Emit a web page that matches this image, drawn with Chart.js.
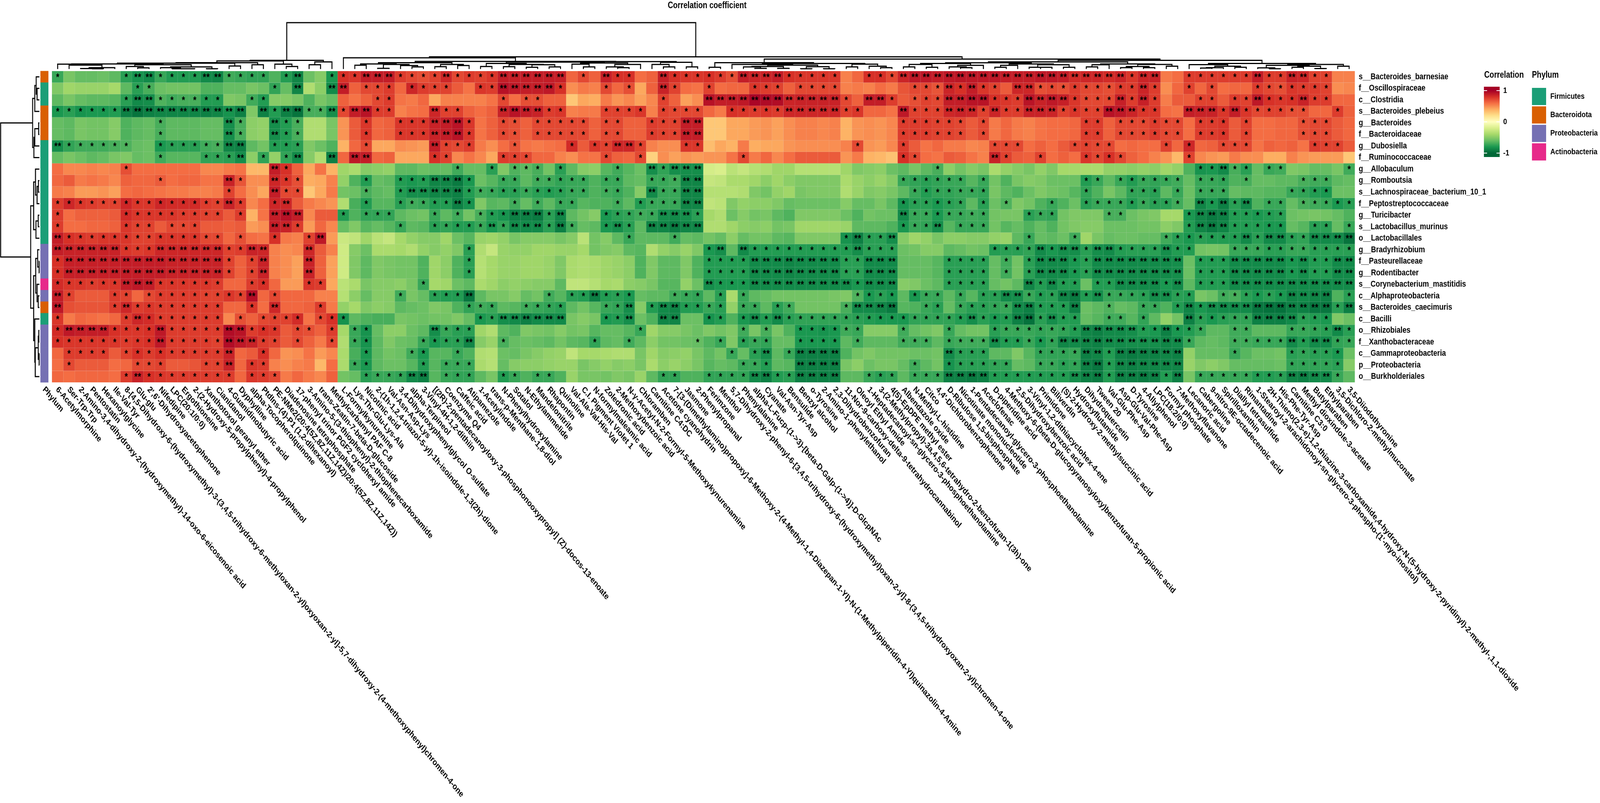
<!DOCTYPE html>
<html>
<head>
<meta charset="utf-8">
<title>Correlation coefficient</title>
<script src="https://cdn.jsdelivr.net/npm/chart.js@4"></script>
<style>
  html, body { margin: 0; padding: 0; background: #fff; overflow: hidden; }
</style>
</head>
<body>
<!-- drawn at 4960x2056 and fitted to the window, whatever size the browser gives -->
<canvas id="heatmap" width="4960" height="2056" style="display:block;width:100vw;height:100vh"></canvas>
<script>
const rowLabels = ['s__Bacteroides_barnesiae','f__Oscillospiraceae','c__Clostridia','s__Bacteroides_plebeius','g__Bacteroides','f__Bacteroidaceae','g__Dubosiella','f__Ruminococcaceae','g__Allobaculum','g__Romboutsia','s__Lachnospiraceae_bacterium_10_1','f__Peptostreptococcaceae','g__Turicibacter','s__Lactobacillus_murinus','o__Lactobacillales','g__Bradyrhizobium','f__Pasteurellaceae','g__Rodentibacter','s__Corynebacterium_mastitidis','c__Alphaproteobacteria','s__Bacteroides_caecimuris','c__Bacilli','o__Rhizobiales','f__Xanthobacteraceae','c__Gammaproteobacteria','p__Proteobacteria','o__Burkholderiales'];

const colLabels = ['6-Acetylmorphine','Ser-Trp-Trp','2-Amino-3,4-dihydroxy-2-(hydroxymethyl)-14-oxo-6-eicosenoic acid','Pentostatin','Hexanoylglycine','Ile-Val-Tyr','8-[4,5-Dihydroxy-6-(hydroxymethyl)-3-(3,4,5-trihydroxy-6-methyloxan-2-yl)oxyoxan-2-yl]-5,7-dihydroxy-2-(4-methoxyphenyl)chromen-4-one','Glu-glu',"2',6'-Dihydroxyacetophenone",'Nifedipine','LPC(20:1/0:0)','Ergothioneine','2-(2-Hydroxy-5-propylphenyl)-4-propylphenol','Xanthotoxol geranyl ether','Cianidanol','4-Guanidinobutyric acid','Dyphylline','alpha-Tocopherolquinone','PtdIns-(4)-P1 (1,2-dihexanoyl)','PE-NMe2(20:4(5Z,8Z,11Z,14Z)/20:4(5Z,8Z,11Z,14Z))','Diadenosine tetraphosphate','17-phenyl trinor PGF2 cyclohexyl amide','3-Amino-5-(3-thiophenyl)-2-thiophenecarboxamide','trans-Zeatin-7-beta-D-glucoside','Methylcarbamyl PAF C-8','L-Formylkynurenine','Lys-Thr-Glu-Lys-Ala','Nicotinic acid','2-(1h-1,2,4-triazol-5-yl)-1h-isoindole-1,3(2h)-dione','Val-Asn-Asp-Lys','3,4-Dihydroxyphenylglycol O-sulfate','alpha-Terpineol','3-Vinyl-4H-1,2-dithiin','[(2R)-2-pentadecanoyloxy-3-phosphonooxypropyl] (Z)-docos-13-enoate','Coenzyme Q4','Caffeic acid','Atipamezole','1-Acetylindole','trans-p-Menthane-1,8-diol','N-Phenylhydroxylamine','Sotalol','N-Ethylammelide','Mandelonitrile','Rhapontin','Quinoline','Val-Ala-Val-His-Val','C.I. Pigment Violet 1','N-formylmaleamic acid','Zoledronic acid','2-Methoxybenzoic acid','N-γ-Acetyl-N-2-Formyl-5-Methoxykynurenamine','Chloramben','Carnitine C4:DC','Acetone cyanohydrin','7-[3-(Dimethylamino)propoxy]-6-Methoxy-2-(4-Methyl-1,4-Diazepan-1-Yl)-N-(1-Methylpiperidin-4-Yl)quinazolin-4-Amine','Jasmone','2-Phenylpropanal','Ferimzone','Menthol','5,7-Dihydroxy-2-phenyl-6-[3,4,5-trihydroxy-6-(hydroxymethyl)oxan-2-yl]-8-(3,4,5-trihydroxyoxan-2-yl)chromen-4-one','Phenylalanine','alpha-L-Fucp-(1->3)-[beta-D-Galp-(1->4)]-D-GlcpNAc','Cyanate','Val-Asn-Tyr-Asp','Bensulide','Benzyl alcohol','o-Tyrosine','2-Amino-1-phenylethanol','2,3-Dihydrobenzofuran','11-Nor-9-carboxy-delta-9-tetrahydrocannabinol','Oleoyl Ethyl Amide','1-Heptadecanoyl-sn-glycero-3-phosphoethanolamine','3-(2-Methylpropyl)-3a,4,5,6-tetrahydro-2-benzofuran-1(3h)-one','4(5)-EpDPE methyl ester','Albendazole oxide','N-Methyl-L-histidine','Citco',"4,4'-Dichlorobenzophenone",'D-Ribulose 1,5-bisphosphate','Nicotinate mononucleotide','1-Pentadecanoyl-glycero-3-phosphoethanolamine','Aceclofenac','D-piperidine acid','4-Methoxy-6-(beta-D-glucopyranosyloxy)benzofuran-5-propionic acid','2,5-Dihydroxybenzoic acid','3-Vinyl-1,2-dithiacyclohex-4-ene','Primidone','Biliverdin','(S)-2-Hydroxy-2-methylsuccinic acid','Hydroxyflutamide','Dihydroquercetin','Tween 20','Val-Glu-Phe-Asp','Asp-Glu-Val-Phe-Asp','D-Tyrosine','4-Allylphenol','LPC(18:2/0:0)','Formyl phosphate','7-Methoxyflavanone','Lecanoric acid','Cabergoline','9-nitro-9E-octadecenoic acid','Spirilloxanthin','Diallyl tetrasulfide','Rimantadine',"1-Stearoyl-2-arachidonoyl-sn-glycero-3-phospho-(1'-myo-inositol)",'2H-Thieno(2,3-e)-1,2-thiazine-3-carboxamide,4-hydroxy-N-(5-hydroxy-2-pyridinyl)-2-methyl-,1,1-dioxide','His-Phe-Tyr-Asp','Carnitine C3:0','Methyl dioxindole-3-acetate','Butylparaben','Ethylparaben','3,5-Dichloro-2-methylmuconate','3,5-Diiodothyronine'];

// phylum of each row: 0 Firmicutes, 1 Bacteroidota, 2 Proteobacteria, 3 Actinobacteria
const phylumNames = ['Firmicutes','Bacteroidota','Proteobacteria','Actinobacteria'];
const phylumColors = ['#1B9E77','#D95F02','#7570B3','#E7298A'];
const rowPhylum = [1,0,0,1,1,1,0,0,0,0,0,0,0,0,0,2,2,2,3,2,1,0,2,2,2,2,2];

// correlation x 100
const corr00 = [-72,-54,-60,-60,-58,-62,-76,-82,-86,-72,-78,-78,-78,-86,-88,-70,-72,-74,-74,-66,-78,-88,-58,-50,-80,80,78,88,88,
  88,76,72,70,74,84,72,76,74,78,88,87,88,88,88,87,63,72,64,87,80,80,60,64,87,80,78,78,
  80,76,70,88,85,85,88,80,78,78,78,78,54,62,80,80,72,85,90,90,88,90,91,90,90,90,88,88,88,
  90,90,88,82,84,84,82,85,78,85,86,56,60,76,76,76,76,76,76,88,76,76,86,84,74,74,54,54];
const corr01 = [-52,-42,-44,-44,-44,-40,-62,-76,-68,-58,-56,-56,-56,-66,-66,-60,-60,-54,-58,-74,-60,-88,-36,-48,-86,88,64,72,72,
  76,62,84,76,74,74,66,58,78,76,93,90,88,88,90,80,50,56,54,72,62,70,42,64,86,74,60,58,
  74,60,62,62,78,76,74,64,72,72,72,72,54,56,54,60,56,68,72,72,68,85,80,88,78,74,66,84,84,
  70,72,70,76,72,72,70,76,76,85,76,50,62,74,62,72,60,62,62,76,72,70,78,76,76,74,50,52];
const corr02 = [-62,-54,-60,-62,-62,-64,-76,-86,-84,-66,-70,-68,-68,-78,-78,-52,-54,-70,-78,-50,-50,-54,-66,-54,-60,64,58,64,72,
  76,58,56,62,42,54,54,54,54,58,72,60,70,70,64,64,30,42,40,56,48,52,44,52,74,64,44,50,
  93,88,88,90,98,96,95,85,86,86,86,86,72,64,88,88,76,66,70,74,72,88,88,92,92,80,78,76,92,
  86,90,87,78,72,72,72,87,76,87,76,55,66,66,74,74,66,76,74,90,80,78,80,86,76,76,62,62];
const corr03 = [-80,-76,-82,-80,-80,-78,-90,-95,-90,-88,-88,-88,-88,-90,-88,-82,-90,-52,-90,-78,-90,-95,-68,-68,-84,72,88,92,76,
  76,54,58,60,84,74,74,64,60,64,86,92,88,86,76,78,54,56,56,74,74,74,78,54,74,72,72,72,
  62,56,80,78,76,78,76,84,84,84,84,84,74,78,62,62,58,90,74,74,74,84,86,84,74,85,76,76,86,
  86,85,74,78,74,74,93,90,85,78,78,60,58,88,86,86,78,88,78,72,74,74,70,70,62,62,76,64];
const corr04 = [-60,-62,-54,-56,-56,-50,-66,-62,-60,-68,-62,-62,-62,-60,-60,-84,-68,-48,-46,-84,-78,-68,-36,-36,-54,48,66,78,62,
  64,78,78,78,86,88,92,78,58,64,72,70,64,72,72,72,72,72,64,72,72,64,64,76,74,74,88,88,
  30,30,42,42,46,48,44,50,54,54,52,54,38,48,50,48,52,76,76,76,74,74,72,66,72,56,62,56,54,
  58,60,60,62,76,76,64,72,72,72,76,72,72,60,76,76,78,66,74,60,60,62,62,70,72,72,66,62];
const corr05 = [-60,-62,-54,-56,-56,-50,-66,-62,-60,-68,-62,-62,-62,-60,-60,-84,-68,-48,-46,-84,-78,-68,-36,-36,-54,48,66,78,62,
  64,78,78,78,86,88,92,78,58,64,72,70,64,72,72,72,72,72,64,72,72,64,64,76,74,74,88,88,
  30,30,42,42,46,48,44,50,54,54,52,54,38,48,50,48,52,76,76,76,74,74,72,66,72,56,62,56,54,
  58,60,60,62,76,76,64,72,72,72,76,72,72,60,76,76,78,66,74,60,60,62,62,70,72,72,66,62];
const corr06 = [-84,-74,-70,-70,-70,-68,-66,-60,-58,-80,-76,-76,-76,-70,-68,-88,-90,-62,-56,-78,-78,-76,-52,-58,-66,38,62,72,42,
  42,50,48,46,88,74,72,76,56,50,60,68,58,56,58,60,82,66,78,74,84,84,74,54,50,50,78,78,
  34,42,38,56,40,42,42,48,50,50,50,50,54,72,48,46,52,76,66,58,62,56,56,52,54,72,72,72,60,
  64,60,66,72,74,72,72,60,62,60,60,74,62,84,62,64,72,72,72,58,64,62,64,58,76,74,74,66];
const corr07 = [-60,-54,-58,-62,-60,-54,-52,-60,-58,-70,-64,-64,-64,-74,-74,-76,-84,-48,-74,-46,-74,-86,-50,-36,-90,62,90,88,62,
  64,42,42,42,80,74,52,58,52,42,76,74,72,62,62,54,50,58,58,72,64,62,72,26,50,44,48,46,
  48,48,58,72,56,62,52,60,66,66,66,66,48,56,38,36,32,80,72,60,58,66,64,58,54,86,74,66,64,
  74,60,64,60,78,72,80,72,64,60,54,48,36,74,52,48,46,56,50,50,40,40,54,48,46,46,46,30];
const corr08 = [60,52,52,54,52,54,70,60,60,60,60,60,60,52,52,56,58,36,36,88,80,64,42,58,38,-42,-38,-50,-48,
  -46,-62,-62,-58,-60,-60,-70,-60,-60,-76,-52,-66,-62,-68,-56,-76,-62,-50,-48,-64,-70,-64,-58,-84,-74,-84,-84,-84,
  -22,-20,-32,-28,-34,-36,-42,-42,-34,-34,-34,-34,-42,-52,-50,-48,-58,-62,-54,-62,-68,-48,-56,-50,-54,-38,-46,-50,-54,
  -46,-52,-40,-40,-38,-38,-46,-46,-48,-46,-48,-42,-46,-66,-82,-80,-86,-68,-76,-60,-72,-70,-52,-54,-60,-60,-54,-70];
const corr09 = [62,66,56,58,56,52,64,62,62,66,60,62,62,58,58,86,68,50,50,84,78,70,40,42,54,-46,-66,-78,-60,
  -62,-78,-80,-78,-88,-88,-92,-80,-58,-64,-72,-72,-62,-70,-70,-74,-72,-72,-66,-72,-72,-62,-60,-72,-72,-70,-88,-88,
  -28,-30,-38,-38,-42,-48,-42,-48,-52,-52,-52,-52,-38,-44,-48,-44,-50,-72,-74,-76,-74,-72,-72,-64,-72,-56,-66,-54,-50,
  -52,-58,-58,-58,-78,-72,-62,-72,-78,-72,-74,-72,-70,-60,-72,-72,-74,-66,-68,-60,-60,-62,-62,-68,-70,-70,-62,-60];
const corr10 = [56,54,46,46,48,44,60,62,60,58,56,56,54,54,56,74,60,50,42,88,72,72,30,42,56,-56,-58,-68,-62,
  -60,-78,-84,-84,-88,-88,-90,-78,-70,-72,-76,-76,-72,-76,-78,-76,-72,-72,-66,-70,-72,-66,-50,-86,-72,-72,-88,-88,
  -34,-34,-34,-36,-52,-56,-46,-42,-54,-52,-52,-52,-36,-44,-52,-50,-54,-62,-72,-78,-74,-74,-72,-72,-74,-54,-62,-66,-58,
  -52,-56,-58,-64,-74,-66,-54,-62,-74,-74,-76,-62,-72,-58,-72,-72,-72,-60,-62,-62,-64,-64,-72,-74,-78,-80,-58,-58];
const corr11 = [76,84,78,76,74,74,84,78,78,84,82,82,82,76,74,86,76,52,60,84,84,66,56,52,48,-36,-68,-78,-64,
  -64,-76,-70,-72,-78,-78,-90,-82,-52,-64,-62,-70,-60,-70,-62,-72,-72,-64,-66,-66,-70,-62,-78,-72,-72,-72,-88,-88,
  -30,-32,-52,-46,-48,-48,-52,-60,-58,-58,-58,-58,-50,-60,-60,-54,-62,-82,-76,-76,-80,-76,-74,-62,-76,-58,-66,-52,-56,
  -66,-72,-66,-58,-76,-72,-72,-72,-78,-72,-76,-76,-70,-60,-88,-80,-90,-76,-86,-66,-72,-72,-60,-68,-70,-72,-80,-76];
const corr12 = [76,60,64,64,64,66,82,78,78,78,78,76,76,74,74,66,76,38,58,88,93,88,52,66,66,-78,-66,-74,-74,
  -74,-62,-58,-56,-72,-62,-70,-56,-68,-78,-82,-90,-90,-92,-76,-88,-62,-56,-50,-80,-76,-74,-70,-72,-84,-86,-84,-76,
  -40,-36,-58,-50,-56,-54,-62,-66,-52,-52,-52,-52,-58,-66,-56,-58,-58,-86,-72,-72,-80,-72,-72,-70,-72,-56,-54,-54,-76,
  -72,-74,-56,-52,-52,-52,-68,-68,-58,-54,-52,-40,-40,-80,-88,-92,-90,-78,-78,-80,-78,-76,-58,-56,-54,-56,-60,-66];
const corr13 = [76,60,60,62,62,64,78,74,74,66,72,72,74,66,66,64,66,46,50,88,86,76,46,62,52,-60,-52,-64,-60,
  -64,-72,-62,-64,-76,-74,-78,-78,-72,-80,-74,-86,-86,-86,-76,-90,-70,-60,-62,-80,-84,-76,-62,-88,-88,-92,-88,-88,
  -36,-36,-42,-48,-50,-48,-56,-54,-42,-42,-42,-42,-44,-62,-62,-62,-66,-80,-72,-74,-84,-64,-72,-72,-72,-56,-64,-60,-66,
  -60,-66,-56,-52,-50,-50,-58,-58,-58,-56,-56,-48,-52,-78,-88,-92,-88,-78,-78,-78,-80,-80,-60,-64,-76,-76,-60,-72];
const corr14 = [88,80,78,76,78,78,78,74,74,78,78,78,78,72,72,62,70,60,58,80,56,54,74,90,46,-26,-30,-42,-32,
  -28,-40,-46,-50,-50,-42,-58,-64,-44,-42,-46,-54,-50,-50,-50,-54,-50,-32,-56,-50,-62,-72,-62,-62,-62,-70,-60,-62,
  -56,-60,-48,-60,-56,-56,-62,-64,-52,-52,-52,-52,-82,-90,-76,-76,-84,-50,-42,-46,-54,-48,-48,-50,-50,-46,-44,-62,-72,
  -60,-62,-58,-70,-42,-54,-60,-58,-58,-60,-60,-70,-76,-80,-76,-78,-78,-78,-86,-76,-86,-86,-76,-74,-86,-86,-86,-95];
const corr15 = [88,86,86,86,86,86,78,76,78,84,84,84,84,84,84,74,76,86,84,54,50,52,84,66,54,-24,-50,-58,-38,
  -38,-40,-36,-46,-50,-46,-52,-76,-36,-28,-44,-46,-46,-42,-42,-44,-44,-40,-56,-52,-50,-62,-64,-36,-46,-50,-44,-52,
  -80,-84,-62,-86,-78,-78,-78,-78,-78,-78,-78,-78,-78,-84,-76,-76,-76,-58,-56,-50,-50,-62,-60,-56,-58,-78,-76,-76,-74,
  -86,-80,-84,-84,-76,-84,-86,-78,-76,-76,-76,-84,-78,-78,-56,-54,-56,-72,-72,-72,-76,-76,-72,-72,-76,-76,-76,-76];
const corr16 = [80,87,87,87,87,87,88,88,88,88,86,86,86,86,86,74,64,74,86,54,50,44,86,64,44,-24,-52,-62,-52,
  -54,-56,-56,-66,-42,-48,-66,-76,-34,-40,-44,-44,-42,-42,-44,-52,-38,-36,-38,-42,-44,-48,-66,-52,-62,-62,-52,-66,
  -78,-78,-78,-78,-86,-86,-86,-88,-86,-86,-86,-86,-76,-76,-86,-86,-86,-60,-60,-60,-64,-76,-76,-76,-76,-60,-70,-56,-76,
  -86,-86,-86,-80,-76,-86,-86,-86,-86,-86,-86,-86,-84,-58,-78,-78,-78,-86,-86,-86,-86,-86,-80,-84,-78,-78,-86,-86];
const corr17 = [80,87,87,87,87,87,88,88,88,88,86,86,86,86,86,74,64,74,86,54,50,44,86,64,44,-24,-52,-62,-52,
  -54,-56,-56,-66,-42,-48,-66,-76,-34,-40,-44,-44,-42,-42,-44,-52,-38,-36,-38,-42,-44,-48,-66,-52,-62,-62,-52,-66,
  -78,-78,-78,-78,-86,-86,-86,-88,-86,-86,-86,-86,-76,-76,-86,-86,-86,-60,-60,-60,-64,-76,-76,-76,-76,-60,-70,-56,-76,
  -86,-86,-86,-80,-76,-86,-86,-86,-86,-86,-86,-86,-84,-58,-78,-78,-78,-86,-86,-86,-86,-86,-80,-84,-78,-78,-86,-86];
const corr18 = [82,78,78,76,78,78,88,90,88,78,78,78,78,78,76,62,62,76,80,62,46,46,78,76,42,-32,-38,-54,-50,
  -50,-48,-54,-72,-40,-42,-58,-62,-38,-42,-48,-46,-48,-50,-50,-62,-30,-30,-34,-40,-38,-48,-50,-54,-64,-64,-46,-58,
  -84,-80,-80,-80,-86,-86,-86,-86,-86,-86,-86,-86,-86,-80,-86,-86,-86,-50,-52,-58,-62,-76,-76,-76,-76,-60,-56,-62,-88,
  -78,-86,-78,-78,-58,-78,-78,-86,-86,-86,-86,-80,-86,-62,-78,-78,-78,-86,-86,-86,-86,-86,-86,-86,-86,-86,-86,-86];
const corr19 = [88,74,66,66,66,76,74,62,72,76,76,76,76,74,74,78,74,94,62,72,62,62,62,54,54,-34,-48,-60,-50,
  -50,-70,-54,-60,-76,-78,-78,-94,-62,-54,-54,-50,-60,-56,-70,-64,-76,-78,-90,-78,-76,-80,-60,-62,-62,-70,-72,-74,
  -62,-76,-38,-72,-62,-60,-56,-56,-56,-56,-56,-54,-52,-66,-80,-76,-80,-62,-80,-72,-72,-62,-72,-64,-76,-76,-86,-84,-72,
  -78,-76,-88,-92,-78,-84,-72,-72,-74,-76,-84,-84,-76,-78,-54,-58,-70,-68,-76,-80,-76,-80,-88,-86,-88,-90,-66,-76];
const corr20 = [90,70,68,68,68,76,84,76,78,76,76,76,76,76,76,62,62,78,60,84,62,62,64,76,56,-46,-40,-52,-48,
  -50,-62,-60,-58,-52,-54,-66,-74,-70,-72,-62,-64,-70,-72,-74,-76,-62,-56,-64,-72,-74,-84,-50,-78,-86,-88,-78,-78,
  -72,-76,-46,-72,-72,-62,-76,-70,-56,-56,-56,-56,-68,-86,-86,-88,-92,-64,-66,-72,-76,-60,-72,-76,-76,-74,-72,-86,-90,
  -78,-78,-78,-90,-58,-62,-66,-60,-62,-72,-72,-66,-78,-88,-80,-84,-86,-86,-86,-94,-96,-96,-90,-90,-94,-94,-76,-90];
const corr21 = [78,56,62,60,58,62,76,84,82,76,76,76,76,76,76,52,70,64,72,74,74,82,58,72,80,-82,-62,-66,-68,
  -68,-54,-56,-58,-56,-56,-52,-60,-80,-76,-84,-86,-90,-86,-86,-86,-54,-50,-54,-80,-78,-84,-58,-66,-88,-88,-58,-58,
  -82,-78,-66,-80,-86,-78,-86,-76,-74,-74,-74,-74,-74,-76,-78,-80,-80,-80,-74,-74,-74,-74,-78,-84,-76,-80,-78,-90,-96,
  -76,-84,-78,-78,-60,-64,-70,-70,-64,-74,-62,-46,-56,-90,-76,-80,-76,-74,-74,-90,-90,-90,-86,-76,-78,-80,-52,-58];
const corr22 = [82,90,88,88,88,80,78,78,80,90,76,76,76,76,76,95,92,76,80,78,66,72,70,64,76,-40,-72,-82,-60,
  -48,-48,-58,-62,-84,-72,-76,-76,-42,-36,-62,-66,-52,-54,-56,-50,-56,-54,-64,-60,-60,-64,-72,-42,-50,-50,-54,-58,
  -52,-56,-52,-70,-54,-68,-54,-66,-80,-80,-82,-80,-70,-72,-50,-50,-50,-70,-60,-56,-52,-72,-60,-56,-56,-76,-72,-72,-72,
  -74,-72,-74,-78,-88,-90,-86,-86,-84,-78,-80,-90,-80,-78,-72,-62,-62,-70,-70,-62,-62,-62,-72,-72,-74,-76,-86,-76];
const corr23 = [80,78,78,78,78,78,76,78,80,90,76,76,76,76,74,95,90,86,76,74,66,72,64,56,72,-36,-72,-82,-62,
  -52,-58,-60,-72,-80,-76,-76,-88,-50,-44,-68,-60,-58,-60,-62,-56,-62,-64,-74,-62,-60,-70,-62,-48,-56,-56,-58,-60,
  -66,-72,-52,-76,-72,-74,-60,-60,-80,-80,-80,-80,-62,-70,-62,-62,-62,-70,-70,-70,-62,-72,-70,-70,-70,-84,-78,-78,-72,
  -80,-74,-88,-86,-88,-90,-86,-86,-84,-84,-84,-88,-86,-72,-62,-60,-62,-70,-70,-72,-72,-72,-86,-78,-86,-86,-74,-72];
const corr24 = [62,76,76,76,76,66,74,80,76,80,76,76,76,76,76,86,62,66,80,62,48,50,58,46,52,-38,-68,-80,-62,
  -56,-58,-70,-80,-64,-64,-72,-66,-36,-34,-58,-60,-54,-50,-46,-44,-30,-40,-40,-38,-36,-36,-54,-42,-50,-48,-46,-54,
  -62,-56,-72,-60,-76,-84,-62,-72,-90,-90,-90,-90,-66,-56,-52,-56,-56,-56,-58,-58,-56,-86,-76,-76,-76,-62,-62,-52,-64,
  -74,-74,-74,-72,-90,-88,-78,-90,-92,-90,-90,-88,-90,-46,-60,-60,-60,-72,-64,-58,-58,-56,-76,-74,-76,-76,-80,-58];
const corr25 = [60,72,66,66,66,60,62,72,72,74,66,66,68,74,74,86,62,78,76,54,50,54,56,36,60,-38,-72,-80,-62,
  -58,-58,-64,-78,-64,-72,-72,-72,-38,-34,-60,-50,-48,-48,-46,-44,-44,-54,-50,-46,-50,-48,-54,-38,-48,-44,-48,-54,
  -64,-60,-62,-72,-72,-78,-62,-64,-90,-90,-90,-90,-54,-48,-58,-54,-54,-60,-70,-62,-56,-82,-76,-76,-76,-74,-74,-60,-62,
  -72,-72,-76,-74,-90,-94,-78,-88,-90,-88,-88,-88,-88,-44,-52,-48,-52,-60,-60,-60,-60,-58,-74,-74,-74,-74,-76,-50];
const corr26 = [62,60,62,62,62,60,76,86,80,78,76,76,76,76,76,76,62,78,76,72,56,62,56,52,64,-56,-60,-76,-72,
  -72,-74,-86,-90,-64,-72,-74,-74,-62,-54,-78,-72,-66,-72,-72,-66,-44,-54,-54,-56,-52,-54,-44,-62,-74,-74,-66,-66,
  -74,-74,-74,-74,-86,-90,-78,-76,-90,-90,-90,-90,-62,-62,-72,-76,-74,-62,-72,-72,-72,-90,-90,-92,-90,-78,-78,-78,-78,
  -78,-78,-78,-84,-90,-92,-78,-90,-90,-92,-90,-78,-90,-54,-72,-72,-72,-72,-72,-78,-78,-76,-88,-90,-86,-86,-72,-62];
const corr = [corr00,corr01,corr02,corr03,corr04,corr05,corr06,corr07,corr08,corr09,corr10,corr11,corr12,corr13,corr14,corr15,corr16,corr17,corr18,corr19,corr20,corr21,corr22,corr23,corr24,corr25,corr26];

// number of significance stars per cell, row by row
const stars = [
  '10000012211112211110120011122 2111121111222222010211002111 11122221111100111222222222222 2222222212200111111211221100',
  '00000001100000000001020022011 1011110011222221000101002100 10001110111100000011121211022 1111111112100101000111111100',
  '00000012211111100110000000001 1000000000101100000000001000 22222222222210221011122221112 2221111212100011011211121100',
  '11111122222222222021221121221 1000211000222211000111101111 00111112222211000211122212112 2211112221100222121111110010',
  '00000000010000021002110000010 0111222100110111110110011122 00000000000000000111111010000 0000110111111011101000011100',
  '00000000010000021002110000010 0111222100110111110110011122 00000000000000000111111010000 0000110111111011101000011100',
  '21111110011111122001110000010 0000211100010000101122100011 00000000000001000100000001110 0001111000010100111000001110',
  '00000000010001112010120020220 0000110000111000000100100000 00010000000000000110000002100 1000111100000100000000000000',
  '00000010000000000002100000000 0000001001011101000010021222 00000000000000000000100000000 0000000000000011211011000001',
  '00000000010000021002110000010 0111222100110111110110011122 00000000000000000111111010000 0000110111111011101000011100',
  '00000000000000010002110000010 0122222111111111110110021122 00000000000000000011111110000 0000100011101011100000111100',
  '11111111111111121001200000010 0111112100010101100010111122 00000000000000000111111010100 0100111111111021212011011111',
  '10000011111111101002220001011 1000101011122212000111112221 00000000000000000211111110001 1100001100000122211111000000',
  '10000011101110000002210000000 0100111112122212100121022222 00000000000000000111201110000 0000000000000122211111001101',
  '21111111111111101001001200000 0000000000000000000001000100 00000000000012112000000000001 0001000000011111112122112222',
  '22222211122222211220002000000 0000000100000000000000000000 12021111111112111000000001111 2122122111121100011111111111',
  '12222222222222210120002000000 0000000100000000000000000000 11112222222211222000011110101 2221122222222011122222121122',
  '12222222222222210120002000000 0000000100000000000000000000 11112222222211222000011110101 2221122222222011122222121122',
  '11111122211111100110001100000 0001000000000000000000000000 21112222222221222000011110002 1211011222212011122222222222',
  '21000110111111111201000000000 0100111200000010112111000111 01010000000001111011101011221 1122121111221100111111222201',
  '20000121111111100102000100000 0000000111001111000112012211 11011011000012222001101111122 1112001001101212222222222212',
  '10000012111111101011110111000 0000000011222222000112002200 11012121111111111111111211122 1211001101000211111222211100',
  '12222111121111122111011010110 0000211100000000000000100000 00010100111111000100010001111 1111222221121110011000111121',
  '11111111121111122211010010110 0001111200100000001001000001 01011100111101000111011112111 1122222222222100011111212211',
  '01111011111111120010000000010 0011001000000000000000000000 00101201222200000000021110000 1111221222222000010000111110',
  '01000001110001120110000000110 0001011100000000000000000000 00011100222200000010011111100 1111221222222000000000111110',
  '00000012111111110111000000011 1122011100110110000000001100 11112211222200111011122221111 1112221222212011111111222210'
].map(s => s.replace(/ /g, ''));

// dendrograms as nested [height, left, right], 0 is a leaf. Heights in axis units away from the heatmap.
const colTree = [4.2,
  [.93,
    [.88,
      [.73,
        [.69,
          [.62,
            [.6,0,[.52,0,[.3,[.22,0,[.2,0,0]],0]]],
            [.55,[.4,0,[.28,0,0]],[.36,[.3,0,[.2,0,[.2,0,0]]],[.2,0,0]]]],
          [.44,0,0]],
        [.55,0,0]],
      [.6,0,[.4,0,0]]],
    [.8,[.55,0,0],0]],
  [1.24,
    [1.15,0,
      [.84,
        [.73,
          [.62,[.51,0,0],[.58,[.24,0,0],[.48,0,[.36,0,0]]]],
          [.58,[.38,0,0],[.48,0,0]]],
        [.82,
          [.78,
            [.66,[.4,0,0],[.58,[.38,0,0],[.55,[.33,0,0],[.36,0,0]]]],
            [.7,[.6,0,[.36,0,0]],[.58,[.36,0,[.3,0,0]],0]]],
          [.76,[.58,0,[.36,0,0]],[.36,0,0]]]]],
    [1.04,
      [.73,
        [.33,0,0],
        [.66,
          [.58,0,[.52,[.4,[.36,0,[.24,0,0]],[.24,0,0]],[.38,[.2,0,0],[.2,0,0]]]],
          [.6,[.36,0,0],[.42,0,[.3,0,0]]]]],
      [.93,
        [.8,
          [.72,
            [.66,[.58,[.36,0,0],[.33,0,0]],[.5,[.36,0,[.3,0,0]],0]],
            [.62,[.5,[.33,0,0],0],[.55,[.33,0,[.33,0,0]],[.33,0,0]]]],
          [.62,[.55,[.36,0,0],0],[.58,[.4,[.3,0,0],[.3,0,0]],[.42,0,0]]]],
        [.66,
          [.56,0,[.42,[.3,[.26,0,0],0],[.33,0,0]]],
          [.58,[.5,[.28,0,[.2,0,0]],[.42,[.33,0,0],[.22,0,0]]],[.42,0,0]]]]]]];

const rowTree = [4.49,
  [1.69,
    [1.5,[1.38,0,[1.3,0,0]],0],
    [1.58,[1.5,[1.16,0,0],0],0]],
  [1.86,
    [1.6,
      [1.44,0,[1.3,[1.18,0,0],0]],
      [1.4,[1.2,0,0],0]],
    [1.6,
      [1.42,[1.25,0,[1.12,0,0]],[1.3,0,[1.2,0,0]]],
      [1.5,0,[1.46,[1.2,[1.15,0,0],[1.12,0,0]],0]]]]];

const palette = [[0,104,55],[26,152,80],[102,189,99],[166,217,106],[217,239,139],[255,255,191],[254,224,139],[253,174,97],[244,109,67],[215,48,39],[165,0,38]];

function cellRgb(v) {
  const t = Math.min(Math.max((v + 100) / 20, 0), 10);
  const i = Math.min(Math.floor(t), 9);
  const f = t - i;
  return palette[i].map((c, k) => c + (palette[i + 1][k] - c) * f);
}

function cellColor(v) {
  const c = cellRgb(v).map(Math.round);
  return `rgb(${c[0]},${c[1]},${c[2]})`;
}

// the cell border is a grey line laid thinly over the cell
function cellBorder(v) {
  const c = cellRgb(v).map(x => Math.round(x * .7 + 215 * .3));
  return `rgb(${c[0]},${c[1]},${c[2]})`;
}

// walk a dendrogram, leaves are numbered in order; gives line points with gaps between the links
function treeLines(tree, flip) {
  const pts = [];
  let leaf = 0;
  const stemEnd = flip ? 1.1 : .18;
  const add = (pos, h) => pts.push(flip ? {x: -h, y: pos} : {x: pos, y: -h});
  const walk = node => {
    if (node === 0) return {pos: .5 + leaf++, h: stemEnd};
    const a = walk(node[1]);
    const b = walk(node[2]);
    add(a.pos, a.h); add(a.pos, node[0]); add(b.pos, node[0]); add(b.pos, b.h);
    pts.push({x: NaN, y: NaN});
    return {pos: (a.pos + b.pos) / 2, h: node[0]};
  };
  walk(tree);
  return {pts, leaves: leaf};
}

const colLines = treeLines(colTree, false);
const rowLines = treeLines(rowTree, true);

if (colLabels.length !== 114 || colLines.leaves !== 114 || rowLines.leaves !== 27) {
  console.error('bad sizes', colLabels.length, colLines.leaves, rowLines.leaves);
}

const annotationX = -.66;
const FONT = '"Liberation Sans", Arial, sans-serif';

const datasets = corr.map((values, r) => ({
  type: 'bar',
  data: values.map((v, c) => ({x: c + .5, y: [r, r + 1]})),
  backgroundColor: values.map(cellColor),
  borderColor: values.map(cellBorder),
  borderWidth: .7,
  borderSkipped: false,
  grouped: false,
  barPercentage: 1,
  categoryPercentage: 1,
  clip: false
}));

datasets.push({
  type: 'bar',
  data: rowPhylum.map((p, r) => ({x: annotationX, y: [r, r + 1]})),
  backgroundColor: rowPhylum.map(p => phylumColors[p]),
  borderWidth: 0,
  grouped: false,
  barThickness: 24,
  clip: false
});

[colLines.pts, rowLines.pts].forEach(pts => {
  datasets.push({
    type: 'scatter',
    data: pts,
    showLine: true,
    spanGaps: false,
    borderColor: '#000',
    borderWidth: 3,
    borderCapStyle: 'butt',
    pointRadius: 0,
    clip: false
  });
});

// stars inside the cells
const starPlugin = {
  id: 'stars',
  afterDatasetsDraw(chart) {
    const ctx = chart.ctx;
    ctx.save();
    ctx.fillStyle = '#000';
    ctx.font = `bold 26px ${FONT}`;
    ctx.textAlign = 'center';
    ctx.textBaseline = 'middle';
    corr.forEach((values, r) => {
      const bars = chart.getDatasetMeta(r).data;
      values.forEach((v, c) => {
        const n = +stars[r][c];
        const p = bars[c].getCenterPoint();
        if (n === 1) ctx.fillText('*', p.x, p.y + 2);
        if (n === 2) {
          ctx.fillText('*', p.x - 5.5, p.y + 2);
          ctx.fillText('*', p.x + 5.5, p.y + 2);
        }
      });
    });
    ctx.restore();
  }
};

// rotated column labels, the axis itself can only hang them the other way round
const sideText = {
  id: 'sideText',
  afterDraw(chart) {
    const ctx = chart.ctx;
    const xs = chart.scales.x;
    ctx.save();
    ctx.fillStyle = '#000';
    ctx.textBaseline = 'middle';
    ctx.font = `bold 22.5px ${FONT}`;
    xs.ticks.forEach(t => {
      ctx.save();
      ctx.translate(xs.getPixelForValue(t.value) - 2, chart.chartArea.bottom + 15);
      ctx.rotate(Math.PI / 4);
      ctx.fillText(t.label, 0, 0);
      ctx.restore();
    });

    ctx.textAlign = 'center';
    ctx.font = `bold 23px ${FONT}`;
    ctx.fillText('Correlation coefficient', 2192, 15);

    // legends
    ctx.textAlign = 'left';
    ctx.font = `bold 23px ${FONT}`;
    ctx.fillText('Correlation', 4601, 193);
    ctx.fillText('Phylum', 4749, 193);

    const grad = ctx.createLinearGradient(0, 402, 0, 222);
    palette.forEach((c, i) => grad.addColorStop((i * 16 + 10) / 180, `rgb(${c[0]},${c[1]},${c[2]})`));
    ctx.fillStyle = grad;
    ctx.fillRect(4600, 222, 49, 180);
    ctx.fillStyle = '#fff';
    [232, 312, 392].forEach(y => {
      ctx.fillRect(4600, y - 1, 10, 2);
      ctx.fillRect(4639, y - 1, 10, 2);
    });
    ctx.fillStyle = '#000';
    ctx.font = `bold 21px ${FONT}`;
    ctx.fillText('1', 4660, 232);
    ctx.fillText('0', 4660, 312);
    ctx.fillText('-1', 4660, 392);

    phylumNames.forEach((name, i) => {
      const y = 225 + i * 47.3;
      ctx.fillStyle = phylumColors[i];
      ctx.fillRect(4749, y, 44, 44);
      ctx.fillStyle = '#000';
      ctx.fillText(name, 4806, y + 22);
    });
    ctx.restore();
  }
};

new Chart(document.getElementById('heatmap'), {
  type: 'bar',
  data: {datasets},
  plugins: [starPlugin, sideText],
  options: {
    responsive: false,
    animation: false,
    devicePixelRatio: 1,
    layout: {autoPadding: false, padding: {left: 161, top: 182}},
    plugins: {legend: {display: false}, tooltip: {enabled: false}},
    scales: {
      x: {
        type: 'linear',
        offset: false,
        min: 0,
        max: 114,
        grid: {display: false, drawTicks: false, offset: false},
        border: {display: false},
        afterBuildTicks: s => { s.ticks = [{value: annotationX}].concat(colLabels.map((_, i) => ({value: i + .5}))); },
        afterFit: s => { s.height = 1077; },
        ticks: {
          display: false,
          autoSkip: false,
          callback: (v, i) => (i === 0 ? 'Phylum' : colLabels[i - 1])
        }
      },
      y: {
        type: 'linear',
        position: 'right',
        reverse: true,
        min: 0,
        max: 27,
        grid: {display: false, drawTicks: false},
        border: {display: false},
        afterBuildTicks: s => { s.ticks = rowLabels.map((_, i) => ({value: i + .5})); },
        afterFit: s => { s.width = 760; },
        ticks: {
          autoSkip: false,
          padding: 12,
          color: '#000',
          font: {family: FONT, size: 22, weight: 'bold'},
          callback: (v, i) => rowLabels[i]
        }
      }
    }
  }
});
</script>
</body>
</html>
